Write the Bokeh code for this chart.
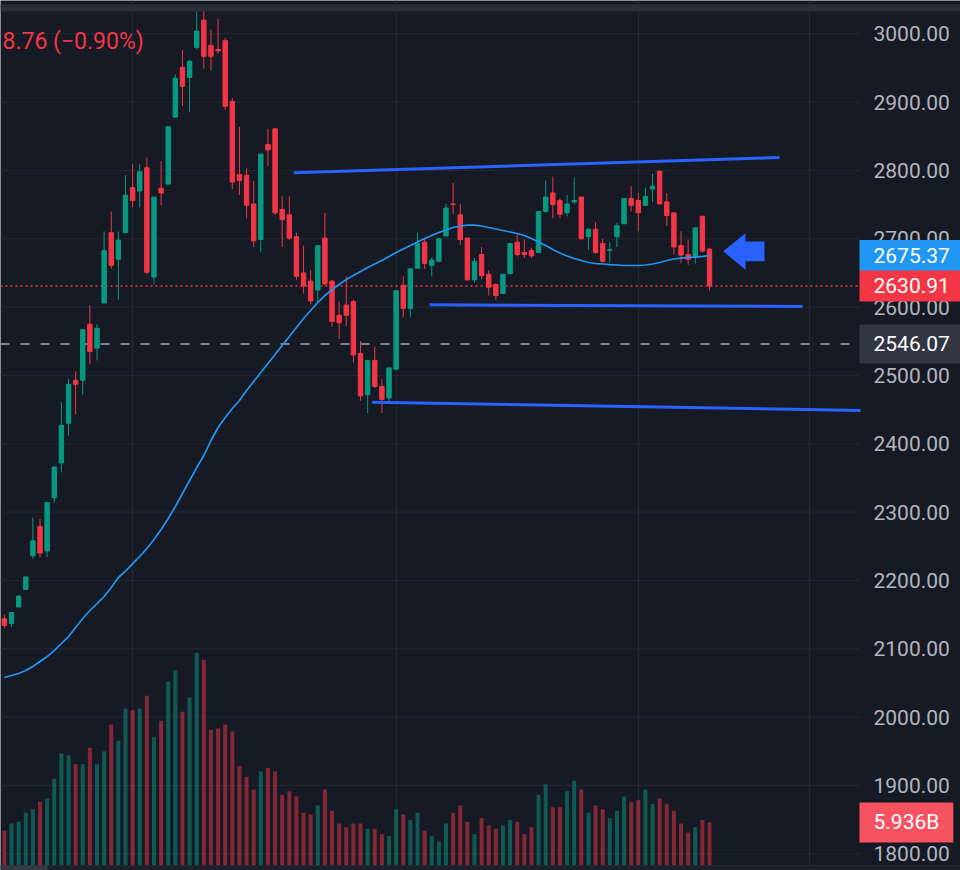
from bokeh.plotting import figure
from bokeh.models import (Range1d, FixedTicker, Grid, Label, BoxAnnotation,
                          NumeralTickFormatter, ColumnDataSource)
from bokeh.embed import file_html
from bokeh.resources import INLINE

# ---------------- data ----------------
OPEN = [2144, 2137, 2161, 2187, 2236, 2279, 2243, 2321, 2372, 2430,
        2493, 2493, 2575, 2540, 2606, 2709, 2670, 2709, 2775, 2770,
        2804, 2644, 2774, 2780, 2878, 2951, 2936, 2980, 3020, 2983,
        2977, 2990, 2901, 2794, 2793, 2751, 2699, 2838, 2861, 2743,
        2735, 2703, 2650, 2638, 2625, 2701, 2638, 2588, 2603, 2608,
        2532, 2472, 2522, 2484, 2467, 2509, 2632, 2598, 2657, 2695,
        2661, 2667, 2704, 2751, 2735, 2701, 2640, 2677, 2648, 2633,
        2620, 2649, 2695, 2680, 2683, 2680, 2740, 2767, 2756, 2738,
        2754, 2761, 2703, 2714, 2693, 2683, 2703, 2722, 2759, 2756,
        2749, 2773, 2799, 2754, 2738, 2690, 2677, 2673, 2733, 2685]
HIGH = [2150, 2153, 2179, 2206, 2292, 2290, 2314, 2366, 2461, 2495,
        2506, 2568, 2603, 2575, 2711, 2740, 2711, 2793, 2809, 2809,
        2819, 2761, 2814, 2864, 2940, 2976, 2962, 3035, 3035, 3006,
        3022, 2994, 2906, 2864, 2803, 2785, 2824, 2861, 2861, 2762,
        2762, 2709, 2690, 2654, 2690, 2738, 2640, 2608, 2645, 2611,
        2550, 2522, 2542, 2495, 2511, 2624, 2645, 2656, 2709, 2700,
        2673, 2702, 2751, 2782, 2751, 2702, 2672, 2688, 2654, 2635,
        2648, 2693, 2707, 2699, 2687, 2740, 2785, 2791, 2759, 2764,
        2790, 2761, 2716, 2724, 2700, 2695, 2723, 2759, 2777, 2767,
        2775, 2795, 2799, 2767, 2738, 2711, 2699, 2716, 2733, 2687]
LOW = [2130, 2132, 2161, 2186, 2232, 2234, 2234, 2314, 2358, 2412,
       2443, 2472, 2517, 2522, 2606, 2656, 2611, 2709, 2746, 2746,
       2648, 2633, 2749, 2780, 2878, 2894, 2885, 2977, 2949, 2946,
       2971, 2889, 2773, 2764, 2730, 2688, 2680, 2806, 2735, 2688,
       2698, 2640, 2620, 2604, 2606, 2632, 2572, 2553, 2572, 2519,
       2463, 2445, 2482, 2445, 2462, 2509, 2585, 2585, 2657, 2656,
       2645, 2667, 2704, 2736, 2691, 2639, 2636, 2641, 2617, 2611,
       2619, 2649, 2674, 2672, 2672, 2680, 2738, 2730, 2730, 2733,
       2751, 2699, 2684, 2678, 2665, 2665, 2688, 2722, 2740, 2711,
       2749, 2754, 2751, 2719, 2677, 2664, 2662, 2664, 2680, 2624]
CLOSE = [2134, 2153, 2177, 2205, 2258, 2240, 2314, 2366, 2427, 2487,
         2487, 2567, 2535, 2569, 2683, 2661, 2698, 2764, 2756, 2798,
         2651, 2761, 2767, 2864, 2935, 2923, 2960, 3004, 2967, 2967,
         2975, 2894, 2783, 2785, 2749, 2697, 2824, 2830, 2738, 2728,
         2701, 2645, 2631, 2609, 2690, 2634, 2579, 2577, 2588, 2530,
         2470, 2522, 2484, 2465, 2511, 2624, 2598, 2656, 2693, 2664,
         2669, 2700, 2745, 2750, 2699, 2640, 2667, 2646, 2629, 2617,
         2648, 2693, 2677, 2677, 2675, 2740, 2761, 2750, 2736, 2751,
         2756, 2700, 2714, 2680, 2667, 2684, 2719, 2759, 2749, 2738,
         2762, 2777, 2751, 2734, 2688, 2676, 2670, 2716, 2682, 2630.91]
VOLUME_B = [4.79, 5.80, 6.03, 7.27, 7.77, 8.79, 9.25, 12.0, 15.46, 15.23,
            13.98, 13.98, 16.24, 13.98, 15.73, 19.46, 17.25, 21.67, 21.44, 21.67,
            23.42, 17.71, 19.97, 25.4, 26.91, 21.21, 23.19, 29.35, 28.39, 18.73,
            18.91, 19.46, 18.49, 13.70, 12.24, 10.49, 12.97, 13.48, 12.97, 9.76,
            10.25, 9.52, 7.27, 7.04, 8.28, 10.49, 7.55, 5.80, 5.29, 5.80,
            5.80, 5.06, 5.06, 4.32, 4.05, 7.77, 7.04, 6.30, 7.27, 4.79,
            4.05, 3.31, 5.80, 7.27, 8.28, 6.03, 4.32, 6.53, 5.52, 5.06,
            5.52, 6.26, 6.03, 4.32, 5.29, 9.76, 11.23, 8.05, 8.05, 10.26,
            11.73, 10.49, 7.27, 8.28, 7.77, 6.53, 7.55, 9.52, 8.79, 9.02,
            10.49, 8.51, 9.25, 8.51, 7.55, 5.80, 4.55, 5.29, 6.26, 5.936]
MA = [2057.9, 2060.8, 2063.8, 2068.2, 2074.0, 2081.3, 2088.6, 2097.4, 2107.7, 2117.9,
      2131.1, 2144.3, 2156.0, 2166.2, 2176.5, 2189.6, 2204.3, 2213.5, 2224.5, 2235.0,
      2246.7, 2259.9, 2274.5, 2290.6, 2308.2, 2327.2, 2346.2, 2365.2, 2382.8, 2404.8,
      2423.8, 2438.4, 2451.6, 2463.3, 2477.9, 2491.1, 2504.3, 2517.4, 2530.6, 2543.8,
      2557.0, 2570.1, 2583.3, 2595.0, 2606.7, 2617.0, 2625.7, 2633.1, 2640.4, 2646.2,
      2652.1, 2657.9, 2663.1, 2668.2, 2674.0, 2679.9, 2685.0, 2690.1, 2695.3, 2700.4,
      2704.8, 2709.2, 2712.8, 2716.5, 2718.7, 2720.1, 2720.1, 2718.7, 2716.5, 2714.3,
      2712.1, 2709.9, 2707.7, 2704.8, 2700.4, 2695.3, 2690.1, 2684.3, 2679.2, 2674.8,
      2671.1, 2668.2, 2665.3, 2663.8, 2663.1, 2662.3, 2661.6, 2660.9, 2660.9, 2660.9,
      2661.6, 2663.1, 2665.3, 2668.2, 2670.4, 2671.8, 2672.6, 2673.3, 2674.3, 2675.37]

PRICE_TICKS = [1800, 1900, 2000, 2100, 2200, 2300, 2400, 2500, 2600, 2700, 2800, 2900, 3000]
TIME_GRID = [18, 55, 89, 113]

LAST_PRICE = 2630.91
MA_LAST = 2675.37
HLINE_PRICE = 2546.07
LAST_VOLUME_TEXT = "5.936B"
LAST_VOLUME = 5.936
CHANGE_TEXT = "8.76 (\u22120.90%)"

# drawn trend lines: (x0, y0) -> (x1, y1) in bar index / price
TREND_X0 = [40.63, 59.69, 51.64]
TREND_Y0 = [2796.6, 2603.4, 2460.8]
TREND_X1 = [108.83, 112.06, 120.2]
TREND_Y1 = [2819.0, 2601.0, 2448.7]
# block arrow pointing left
ARROW_X = [100.92, 104.05, 104.05, 106.72, 106.72, 104.05, 104.05]
ARROW_Y = [2681.8, 2708.2, 2696.0, 2696.0, 2667.2, 2667.2, 2654.6]

# ---------------- styling ----------------
BG = "#161a25"
GRID_C = "#242833"
UP = "#089981"
DOWN = "#f23645"
VOL_TAG = "#f7525f"
MA_C = "#2196f3"
DRAW_C = "#2962ff"
AXIS_TXT = "#b2b5be"
FONT = "Roboto"

X_START, X_PANE_END, X_END = -0.55, 120.2, 134.24   # chart pane ends at the price scale
Y_BOTTOM, Y_PANE_BOTTOM, Y_TOP = 1775.5, 1782.8, 3048.73

idx = list(range(len(OPEN)))
colors = [UP if c >= o else DOWN for o, c in zip(OPEN, CLOSE)]
src = ColumnDataSource(dict(
    x=idx, high=HIGH, low=LOW,
    top=[max(o, c) for o, c in zip(OPEN, CLOSE)],
    bot=[min(o, c) for o, c in zip(OPEN, CLOSE)],
    color=colors, vol=VOLUME_B, ma=MA))

p = figure(width=960, height=870,
           x_range=Range1d(X_START, X_END), y_range=Range1d(Y_BOTTOM, Y_TOP),
           x_axis_location=None, y_axis_location="right",
           output_backend="svg", toolbar_location=None,
           min_border_left=0, min_border_top=0, min_border_bottom=0, min_border_right=0,
           background_fill_color=BG, border_fill_color=BG, outline_line_color=None)
p.extra_y_ranges = {"vol": Range1d(-0.69, 119.4)}

# grids
p.center = [r for r in p.center if not isinstance(r, Grid)]
p.add_layout(Grid(dimension=0, ticker=FixedTicker(ticks=TIME_GRID), grid_line_color=GRID_C,
                  grid_line_width=1, bounds=(X_START, X_END)))
n_t = len(PRICE_TICKS)
p.segment(x0=[X_START] * n_t, y0=PRICE_TICKS, x1=[X_PANE_END] * n_t, y1=PRICE_TICKS,
          line_color=GRID_C, line_width=1)

# price axis drawn at the pane's right edge
ax = p.yaxis[0]
ax.fixed_location = X_PANE_END
ax.ticker = FixedTicker(ticks=PRICE_TICKS)
ax.formatter = NumeralTickFormatter(format="0.00")
ax.major_label_text_font = FONT
ax.major_label_text_font_size = "21px"
ax.major_label_text_color = AXIS_TXT
ax.axis_line_color = None
ax.major_tick_line_color = None
ax.minor_tick_line_color = None
ax.major_tick_out = 0
ax.major_tick_in = 0
ax.major_label_standoff = 13

# bottom strip (time-scale edge) with scrollbar thumb
p.add_layout(BoxAnnotation(bottom=Y_BOTTOM, top=Y_PANE_BOTTOM, fill_color="#1b1f2a", fill_alpha=1,
                           line_color=None))
p.add_layout(BoxAnnotation(left=X_START, right=6.05, bottom=Y_BOTTOM, top=Y_PANE_BOTTOM,
                           fill_color="#363a45", fill_alpha=1, line_color=None))
p.segment(x0=[X_START], y0=[Y_PANE_BOTTOM], x1=[X_END], y1=[Y_PANE_BOTTOM],
          line_color="#2a2e39", line_width=1)

# volume
p.vbar(x="x", top="vol", bottom=0, width=0.56, fill_color="color", fill_alpha=0.5,
       line_color=None, y_range_name="vol", source=src)

# horizontal lines
p.segment(x0=[X_START], y0=[HLINE_PRICE], x1=[X_PANE_END], y1=[HLINE_PRICE],
          line_color="#a3a6af", line_width=1.5, line_dash="9 11")
p.segment(x0=[X_START], y0=[LAST_PRICE], x1=[X_PANE_END], y1=[LAST_PRICE],
          line_color=DOWN, line_width=1.5, line_dash="2 3")

# candles
p.segment(x0="x", y0="low", x1="x", y1="high", line_color="color", line_width=1, source=src)
p.vbar(x="x", top="top", bottom="bot", width=0.62, fill_color="color",
       line_color="color", line_width=1, source=src)

# moving average
p.line(x="x", y="ma", line_color=MA_C, line_width=1.7, source=src)

# drawings
p.segment(x0=TREND_X0, y0=TREND_Y0, x1=TREND_X1, y1=TREND_Y1, line_color=DRAW_C, line_width=3)
p.patch(ARROW_X, ARROW_Y, fill_color=DRAW_C, line_color=None)

# top band
p.add_layout(BoxAnnotation(bottom=3032.6, top=3042.9, fill_color="#2a2e39", fill_alpha=1,
                           line_color=None))

# legend text
p.add_layout(Label(x=-0.27, y=2988.7, text=CHANGE_TEXT, text_align="left", text_baseline="middle",
                   text_color=DOWN, text_font=FONT, text_font_size="23px"))

# price-scale labels (box anchored at the pane edge, text inset by the padding)
LX = 120.06
def tag(y, text, bg, pad=(14, 8), rng="default", bold=False):
    kw = {}
    if rng != "default":
        kw["y_range_name"] = rng
    p.add_layout(Label(x=LX, y=y, text=text, text_align="left", text_baseline="middle",
                       text_color="white", text_font=FONT, text_font_size="21px",
                       text_font_style="bold" if bold else "normal",
                       background_fill_color=bg, background_fill_alpha=1,
                       padding=pad, **kw))

tag(MA_LAST, f"{MA_LAST:.2f}", MA_C)
tag(LAST_PRICE, f"{LAST_PRICE:.2f}", DOWN)
tag(HLINE_PRICE, f"{HLINE_PRICE:.2f}", "#323542", pad=(14, 12))
tag(LAST_VOLUME, LAST_VOLUME_TEXT, VOL_TAG, rng="vol")

open("out.html", "w").write(file_html(p, INLINE))
